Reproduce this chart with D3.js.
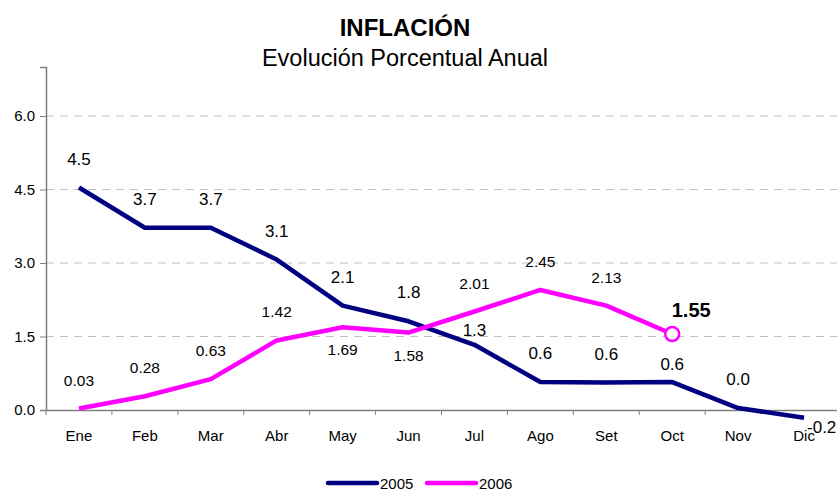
<!DOCTYPE html>
<html>
<head>
<meta charset="utf-8">
<script src="https://cdn.jsdelivr.net/npm/d3@7"></script>
<style>
  body { margin: 0; background: #fff; }
  svg text { font-family: "Liberation Sans", Arial, sans-serif; fill: #000; }
</style>
</head>
<body>
<div id="chart"></div>
<script>
var months = ["Ene","Feb","Mar","Abr","May","Jun","Jul","Ago","Set","Oct","Nov","Dic"];
var serie2005 = [4.54, 3.72, 3.72, 3.07, 2.13, 1.81, 1.33, 0.57, 0.56, 0.57, 0.04, -0.16];
var serie2006 = [0.03, 0.28, 0.63, 1.42, 1.69, 1.58, 2.01, 2.45, 2.13, 1.55];
var yTicks = [0, 1.5, 3.0, 4.5, 6.0];
var seriesNames = ["2005", "2006"];

var width = 837, height = 491;
var margin = {top: 67, right: 0, bottom: 81, left: 46};

var svg = d3.select("#chart")
  .append("svg")
    .attr("width", width)
    .attr("height", height);

// title
svg.append("text")
  .attr("x", 405).attr("y", 36)
  .attr("text-anchor", "middle")
  .style("font-size", "24px").style("font-weight", "bold")
  .text("INFLACIÓN");
svg.append("text")
  .attr("x", 405).attr("y", 66)
  .attr("text-anchor", "middle")
  .style("font-size", "23.5px")
  .text("Evolución Porcentual Anual");

var x = d3.scaleBand()
  .domain(months)
  .range([margin.left, width - margin.right]);

var y = d3.scaleLinear()
  .domain([0, 7])
  .range([height - margin.bottom, margin.top]);

var px = function(i) { return x(months[i]) + x.bandwidth() / 2; };

// gridlines
svg.append("g")
  .selectAll("line")
  .data(yTicks.filter(function(d) { return d > 0; }))
  .enter()
  .append("line")
    .attr("x1", margin.left).attr("x2", width)
    .attr("y1", function(d) { return y(d); })
    .attr("y2", function(d) { return y(d); })
    .attr("stroke", "#c0c0c0")
    .attr("stroke-width", 1)
    .attr("stroke-dasharray", "8,6");

// Y axis
var yAxis = svg.append("g")
  .attr("transform", "translate(" + margin.left + ",0)")
  .call(d3.axisLeft(y).tickValues(yTicks).tickFormat(d3.format(".1f")).tickSize(6).tickPadding(5));
yAxis.select(".domain").attr("stroke", "#808080").attr("stroke-width", 1.5);
yAxis.selectAll(".tick line").attr("stroke", "#808080");
yAxis.selectAll("text").style("font-size", "15px").style("font-family", "Liberation Sans, Arial, sans-serif");

// X axis
var xAxis = svg.append("g")
  .attr("transform", "translate(0," + y(0) + ")")
  .call(d3.axisBottom(x).tickSize(0).tickPadding(20));
xAxis.select(".domain").attr("stroke", "#808080").attr("stroke-width", 1.5);
xAxis.selectAll("text").style("font-size", "15px").style("font-family", "Liberation Sans, Arial, sans-serif");
// ticks at band edges
svg.append("g")
  .selectAll("line")
  .data(months)
  .enter()
  .append("line")
    .attr("x1", function(d) { return x(d); })
    .attr("x2", function(d) { return x(d); })
    .attr("y1", y(0)).attr("y2", y(0) + 5)
    .attr("stroke", "#808080");

var line = d3.line()
  .x(function(d, i) { return px(i); })
  .y(function(d) { return y(d); });

svg.append("path")
  .datum(serie2005)
  .attr("fill", "none")
  .attr("stroke", "#000080")
  .attr("stroke-width", 4.5)
  .attr("stroke-linejoin", "round")
  .attr("d", line);

svg.append("path")
  .datum(serie2006)
  .attr("fill", "none")
  .attr("stroke", "#ff00ff")
  .attr("stroke-width", 4.5)
  .attr("stroke-linejoin", "round")
  .attr("d", line);

// last point marker
var last = serie2006.length - 1;
svg.append("circle")
  .attr("cx", px(last)).attr("cy", y(serie2006[last]))
  .attr("r", 7)
  .attr("fill", "#fff")
  .attr("stroke", "#ff00ff")
  .attr("stroke-width", 2.5);

// labels 2005
svg.append("g")
  .selectAll("text")
  .data(serie2005)
  .enter()
  .append("text")
    .attr("x", function(d, i) { return i == 11 ? px(i) + 3 : px(i); })
    .attr("y", function(d, i) {
      if (i == 11) return y(d) + 15;
      if (i == 6) return y(d) - 9;
      if (i == 9) return y(d) - 12;
      return y(d) - 23;
    })
    .attr("text-anchor", function(d, i) { return i == 11 ? "start" : "middle"; })
    .style("font-size", "17px")
    .text(function(d) { return d.toFixed(1); });

// labels 2006
svg.append("g")
  .selectAll("text")
  .data(serie2006)
  .enter()
  .filter(function(d, i) { return i != last; })
  .append("text")
    .attr("x", function(d, i) { return px(i); })
    .attr("y", function(d, i) {
      if (i == 4 || i == 5) return y(d) + 28;
      return y(d) - 23;
    })
    .attr("text-anchor", "middle")
    .style("font-size", "15.5px")
    .text(function(d) { return d.toFixed(2); });

svg.append("text")
  .attr("x", px(last) + 19).attr("y", y(serie2006[last]) - 17)
  .attr("text-anchor", "middle")
  .style("font-size", "20px").style("font-weight", "bold")
  .text(serie2006[last].toFixed(2));

// legend
var legend = svg.append("g");
var legendColors = ["#000080", "#ff00ff"];
seriesNames.forEach(function(name, i) {
  var lx = 328 + i * 99;
  legend.append("line")
    .attr("x1", lx).attr("x2", lx + 49)
    .attr("y1", 483).attr("y2", 483)
    .attr("stroke", legendColors[i])
    .attr("stroke-width", 4.5)
    .attr("stroke-linecap", "round");
  legend.append("text")
    .attr("x", lx + 52).attr("y", 488.5)
    .style("font-size", "15px")
    .text(name);
});
</script>
</body>
</html>
